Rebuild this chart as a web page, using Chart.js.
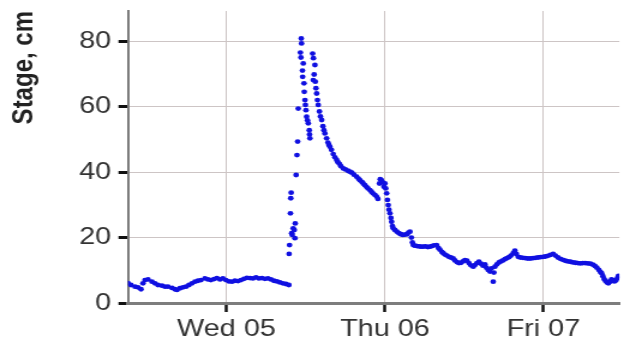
<!DOCTYPE html>
<html>
<head>
<meta charset="utf-8">
<script src="https://cdn.jsdelivr.net/npm/chart.js@4"></script>
<style>
  html, body { margin: 0; padding: 0; background: #fff; }
  /* the source picture is stretched sideways by about 1.2 */
  #wrap { width: 521px; height: 344px; transform: scaleX(1.2); transform-origin: 0 0; }
</style>
</head>
<body>
<div id="wrap"><canvas id="stageChart"></canvas></div>
<script>
// x = hours from Wed 05 00:00, y = stage in cm
const baseflow = [
  [-14.91, 6.1], [-14.46, 5.5], [-13.85, 5.0], [-13.40, 4.8], [-12.94, 4.2],
  [-12.64, 6.0], [-12.34, 7.0], [-11.88, 7.2], [-11.28, 6.5], [-10.83, 6.0],
  [-10.37, 5.5], [-9.77, 5.3], [-9.31, 5.0], [-8.86, 5.0], [-8.25, 4.6],
  [-7.80, 4.2], [-7.49, 4.0], [-7.04, 4.5], [-6.59, 4.8], [-6.13, 5.0],
  [-5.68, 5.5], [-5.22, 6.0], [-4.77, 6.5], [-4.31, 6.8], [-3.86, 7.0],
  [-3.26, 7.5], [-2.80, 7.2], [-2.35, 7.0], [-1.89, 7.3], [-1.44, 7.6],
  [-0.98, 7.2], [-0.53, 7.5], [-0.08, 7.0], [0.38, 6.6], [0.83, 6.5],
  [1.29, 6.8], [1.74, 6.7], [2.20, 7.0], [2.65, 7.4], [3.10, 7.7],
  [3.56, 7.6], [4.01, 7.5], [4.47, 7.8], [4.92, 7.5], [5.37, 7.6],
  [5.83, 7.4], [6.28, 7.5], [6.74, 7.2], [7.19, 6.8], [7.65, 6.6],
  [8.10, 6.3], [8.55, 6.0], [9.01, 5.8], [9.46, 5.5]
];

const floodPeak = [
  [9.49, 15.0], [9.55, 17.7], [9.69, 27.4], [9.74, 32.0], [9.80, 33.7],
  [9.87, 21.3], [9.96, 20.8], [10.11, 22.8], [10.27, 22.3], [10.37, 19.8],
  [10.42, 24.3], [10.55, 39.1], [10.68, 45.2], [10.78, 49.3], [10.87, 59.4],
  [11.33, 80.8], [11.37, 79.3], [11.20, 76.5], [11.28, 75.0], [11.63, 73.2],
  [11.51, 71.0], [11.54, 69.1], [11.74, 67.1], [11.78, 64.5], [11.89, 62.0],
  [11.96, 60.5], [12.04, 58.9], [12.14, 56.9], [12.27, 55.8], [12.39, 54.9],
  [12.54, 52.8], [12.58, 51.5], [12.64, 50.3],
  [13.05, 76.2], [13.17, 74.8], [13.40, 72.7], [13.28, 69.8], [13.14, 68.1],
  [13.46, 67.6], [13.55, 65.6], [13.66, 64.0], [13.78, 62.0], [13.90, 60.5],
  [14.08, 58.5], [14.23, 57.0], [14.42, 55.9], [14.61, 54.0], [14.76, 52.8],
  [14.91, 51.8], [15.17, 50.3], [15.37, 49.0], [15.52, 48.3], [15.67, 47.7],
  [15.90, 46.8], [16.17, 45.5], [16.43, 44.5], [16.69, 43.7], [16.88, 43.0],
  [17.11, 42.5], [17.34, 41.8], [17.69, 41.1], [18.02, 40.8], [18.40, 40.4],
  [18.70, 40.1], [19.00, 39.8], [19.31, 39.2], [19.71, 38.6], [19.99, 38.0],
  [20.21, 37.5], [20.52, 37.0], [20.71, 36.5], [20.97, 36.0], [21.20, 35.5],
  [21.43, 35.0], [21.73, 34.5], [21.96, 34.0], [22.18, 33.5], [22.49, 33.0],
  [22.74, 32.5], [22.94, 31.8], [23.17, 36.5], [23.29, 37.8], [23.47, 37.5],
  [23.70, 36.8], [23.85, 35.5], [24.00, 36.5], [24.12, 35.0], [24.26, 33.5],
  [24.38, 31.5], [24.50, 29.9], [24.61, 28.5], [24.76, 27.4], [24.91, 26.0],
  [25.01, 24.8], [25.14, 23.5], [25.26, 22.8]
];

const recession = [
  [25.51, 22.3], [25.82, 21.8], [26.12, 21.3], [26.42, 21.0], [26.73, 20.8],
  [27.03, 20.9], [27.33, 21.0], [27.56, 21.5], [27.79, 21.8], [28.01, 20.0],
  [28.16, 18.5], [28.29, 17.7], [28.54, 17.5], [28.85, 17.4], [29.15, 17.3],
  [29.45, 17.2], [29.80, 17.2], [30.13, 17.3], [30.51, 17.1], [30.81, 17.2],
  [31.12, 17.4], [31.42, 17.6], [31.83, 17.7], [32.10, 16.8], [32.33, 16.3],
  [32.63, 15.6], [32.83, 15.2], [33.09, 14.8], [33.39, 14.5], [33.69, 14.1],
  [33.99, 13.9], [34.34, 13.6], [34.60, 13.0], [34.90, 12.5], [35.20, 12.2],
  [35.51, 12.3], [35.81, 12.7], [36.11, 13.1], [36.42, 12.9], [36.72, 12.2],
  [37.02, 11.5], [37.37, 11.1], [37.63, 11.6], [37.93, 12.2], [38.23, 12.6],
  [38.54, 12.0], [38.84, 11.4], [39.14, 11.8], [39.37, 10.8], [39.64, 10.1],
  [39.90, 9.6], [40.13, 10.6], [40.40, 6.5], [40.50, 9.3], [40.66, 11.1],
  [40.96, 11.8], [41.26, 12.4], [41.56, 12.7], [41.87, 13.0], [42.17, 13.4],
  [42.47, 13.7], [42.78, 14.0], [43.08, 14.5], [43.43, 15.2], [43.68, 16.0],
  [43.91, 15.0], [44.18, 14.1], [44.52, 13.9], [44.90, 13.8], [45.27, 13.7],
  [45.65, 13.6], [46.03, 13.6], [46.41, 13.7], [46.79, 13.8], [47.17, 13.9],
  [47.55, 14.0], [47.97, 14.1], [48.30, 14.2], [48.68, 14.4], [49.06, 14.7],
  [49.48, 15.0], [49.82, 14.5], [50.20, 13.9], [50.57, 13.5], [50.95, 13.2],
  [51.33, 12.9], [51.71, 12.7], [52.09, 12.6], [52.47, 12.4], [52.85, 12.3],
  [53.22, 12.2], [53.60, 12.1], [53.98, 12.2], [54.36, 12.2], [54.74, 12.1],
  [55.12, 12.0], [55.50, 11.7], [55.80, 11.3], [56.10, 10.8], [56.40, 10.1],
  [56.63, 9.5], [56.81, 9.1], [57.01, 8.2], [57.19, 7.3], [57.39, 6.8],
  [57.62, 6.3], [57.84, 6.0], [58.07, 6.5], [58.30, 7.2], [58.52, 7.0],
  [58.75, 6.6], [58.98, 6.9], [59.21, 7.6], [59.36, 8.3]
];

const dayTicks = [0, 24, 48];
const dayLabels = ['Wed 05', 'Thu 06', 'Fri 07'];
const stageTicks = [0, 20, 40, 60, 80];

const FONT = '"Liberation Sans", Arial, sans-serif';
const points = baseflow.concat(floodPeak, recession).map(p => ({ x: p[0], y: p[1] }));

new Chart(document.getElementById('stageChart'), {
  type: 'scatter',
  data: {
    datasets: [{
      label: 'Stage',
      data: points,
      pointRadius: 2.4,
      pointBorderWidth: 0,
      pointBackgroundColor: 'rgb(16, 16, 225)'
    }]
  },
  options: {
    responsive: true,
    maintainAspectRatio: false,
    animation: false,
    layout: { padding: { top: 11, right: 4.9, left: 0, bottom: 0 } },
    plugins: {
      legend: { display: false },
      tooltip: { enabled: false }
    },
    scales: {
      x: {
        type: 'linear',
        min: -14.9,
        max: 59.5,
        afterBuildTicks: s => { s.ticks = dayTicks.map(v => ({ value: v })); },
        afterFit: s => { s.height = 41; s.paddingLeft = 0; s.paddingRight = 0; },
        grid: { color: '#cdc5c5', lineWidth: 1, tickColor: '#111', tickWidth: 2.5, tickLength: 9 },
        border: { color: '#7d7d7d', width: 3 },
        ticks: {
          padding: 3,
          color: '#333',
          font: { family: FONT, size: 24 },
          maxRotation: 0,
          autoSkip: false,
          callback: v => dayLabels[dayTicks.indexOf(v)]
        }
      },
      y: {
        min: 0,
        max: 89.2,
        afterBuildTicks: s => { s.ticks = stageTicks.map(v => ({ value: v })); },
        afterFit: s => { s.width = 106.7; s.paddingTop = 0; s.paddingBottom = 0; },
        grid: { color: '#cdc5c5', lineWidth: 1, tickColor: '#111', tickWidth: 3, tickLength: 8 },
        border: { color: '#7d7d7d', width: 2 },
        ticks: {
          padding: 6,
          color: '#333',
          font: { family: FONT, size: 24 },
          autoSkip: false
        },
        title: {
          display: true,
          text: 'Stage, cm',
          align: 'end',
          color: '#222',
          padding: { top: 6, bottom: 0 },
          font: { family: FONT, size: 24, weight: 'bold' }
        }
      }
    }
  }
});
</script>
</body>
</html>
